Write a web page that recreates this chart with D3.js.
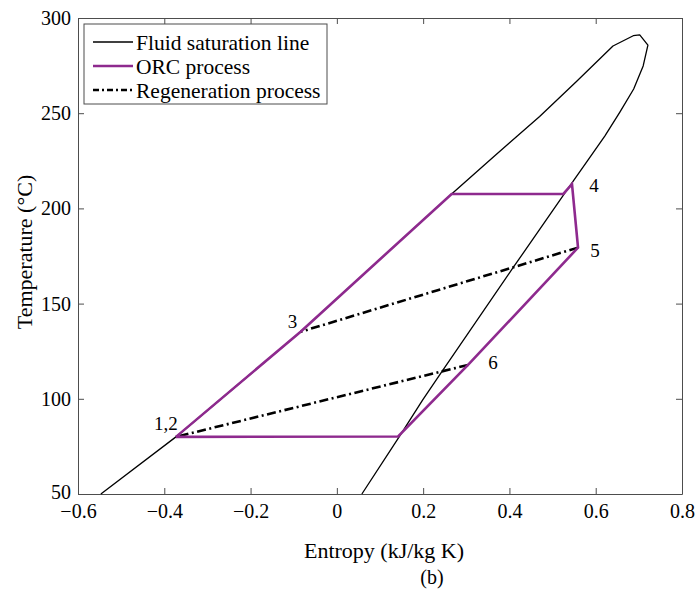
<!DOCTYPE html>
<html>
<head>
<meta charset="utf-8">
<script src="https://cdn.jsdelivr.net/npm/d3@7"></script>
<style>
  body { margin: 0; background: #fff; }
  text { font-family: "Liberation Serif", "Times New Roman", serif; fill: #000; }
</style>
</head>
<body>
<div class="chart-area"></div>
<script>
// saturation dome (entropy kJ/kg K, temperature C), liquid side then vapour side
let satS = [-0.547, -0.373, -0.084, 0.266, 0.368, 0.470, 0.556, 0.640, 0.687, 0.702, 0.721,
            0.710, 0.688, 0.656, 0.621, 0.582, 0.538, 0.408, 0.243, 0.199, 0.144, 0.058];
let satT = [50, 80, 135.2, 207.6, 228.0, 248.3, 266.8, 285.3, 290.7, 291.1, 285.8,
            274.8, 262.7, 250.6, 238.0, 225.4, 211.2, 168.7, 114.1, 99.4, 79.9, 50];

// ORC cycle: 1,2 -> 3 -> sat liquid -> sat vapour -> 4 -> 5 -> 6 -> sat vapour -> 1,2
let orcS = [-0.373, -0.084, 0.266, 0.525, 0.545, 0.559, 0.304, 0.142, -0.373];
let orcT = [80, 135.2, 207.6, 207.6, 212.7, 179.4, 117.8, 80.2, 80];

// regeneration: 5 -> 3 and 6 -> 1,2
let regenA_S = [0.559, -0.084], regenA_T = [179.4, 135.2];
let regenB_S = [0.304, -0.373], regenB_T = [117.8, 80];

let pointNames = ["1,2", "3", "4", "5", "6"];
let pointS = [-0.373, -0.084, 0.545, 0.559, 0.304];
let pointT = [80, 135.2, 212.7, 179.4, 117.8];

let xTicks = [-0.6, -0.4, -0.2, 0, 0.2, 0.4, 0.6, 0.8];
let yTicks = [50, 100, 150, 200, 250, 300];
let legendNames = ["Fluid saturation line", "ORC process", "Regeneration process"];

let outerWidth = 699;
let outerHeight = 594;
let margin = {top: 18, right: 17, bottom: 100, left: 78};
let width = outerWidth - margin.left - margin.right, height = outerHeight - margin.top - margin.bottom;

let purple = "#8e2a8e";
let dashdot = "9,3.5,2,3.5";

let svg = d3.select('.chart-area').append('svg')
    .attr('width', outerWidth)
    .attr('height', outerHeight)
    .append("g")
    .attr("transform", "translate(" + margin.left + "," + margin.top + ")");

let xScale = d3.scaleLinear().domain([-0.6, 0.8]).range([0, width]);
let yScale = d3.scaleLinear().domain([50, 300]).range([height, 0]);

let zip = (s, t) => s.map((v, i) => [v, t[i]]);
let line = d3.line().x(d => xScale(d[0])).y(d => yScale(d[1]));

let fmt = d => d === 0 ? "0" : d3.format(".1f")(d).replace("-", "\u2212");

// axes with inward ticks on all four sides
let axisColor = "#4d4d4d";
let tk = 6;
let axBottom = svg.append("g").attr("transform", `translate(0,${height})`)
    .call(d3.axisBottom(xScale).tickValues(xTicks).tickSizeInner(-tk).tickSizeOuter(0).tickPadding(10).tickFormat(fmt));
let axTop = svg.append("g")
    .call(d3.axisTop(xScale).tickValues(xTicks).tickSizeInner(-tk).tickSizeOuter(0).tickFormat(""));
let axLeft = svg.append("g")
    .call(d3.axisLeft(yScale).tickValues(yTicks).tickSizeInner(-tk).tickSizeOuter(0).tickPadding(7));
let axRight = svg.append("g").attr("transform", `translate(${width},0)`)
    .call(d3.axisRight(yScale).tickValues(yTicks).tickSizeInner(-tk).tickSizeOuter(0).tickFormat(""));

[axBottom, axTop, axLeft, axRight].forEach(a => {
    a.selectAll(".domain").attr("stroke", axisColor);
    a.selectAll(".tick line").attr("stroke", axisColor);
    a.selectAll("text").attr("font-family", "Liberation Serif").attr("font-size", 20).attr("fill", "#000");
});
// lowest y label sits a little higher so it clears the x labels
axLeft.selectAll(".tick text").filter(d => d === 50).attr("dy", "0.2em");

// saturation line
svg.append("path")
    .datum(zip(satS, satT))
    .attr("fill", "none")
    .attr("stroke", "black")
    .attr("stroke-width", 1.3)
    .attr("stroke-linejoin", "round")
    .attr("d", line);

// regeneration
[[regenA_S, regenA_T], [regenB_S, regenB_T]].forEach(r => {
    svg.append("path")
        .datum(zip(r[0], r[1]))
        .attr("fill", "none")
        .attr("stroke", "black")
        .attr("stroke-width", 2.6)
        .attr("stroke-dasharray", dashdot)
        .attr("d", line);
});

// ORC
svg.append("path")
    .datum(zip(orcS, orcT))
    .attr("fill", "none")
    .attr("stroke", purple)
    .attr("stroke-width", 2.6)
    .attr("stroke-linejoin", "miter")
    .attr("d", line);

// state point labels
let labelOffset = {"1,2": [-10, -14], "3": [-8, -10], "4": [22, 1], "5": [17, 3], "6": [25, -3]};
svg.selectAll("text.pt")
    .data(pointNames)
    .enter()
    .append("text")
    .attr("class", "pt")
    .attr("x", (d, i) => xScale(pointS[i]) + labelOffset[d][0])
    .attr("y", (d, i) => yScale(pointT[i]) + labelOffset[d][1])
    .attr("text-anchor", "middle")
    .attr("dy", "0.35em")
    .attr("font-size", 19)
    .text(d => d);

// axis titles
svg.append("text")
    .attr("x", width / 2 + 4)
    .attr("y", height + 64)
    .attr("text-anchor", "middle")
    .attr("font-size", 22)
    .text("Entropy (kJ/kg K)");

svg.append("text")
    .attr("transform", `translate(${-margin.left + 32},${height / 2 - 4}) rotate(-90)`)
    .attr("text-anchor", "middle")
    .attr("font-size", 22)
    .text("Temperature (\u00B0C)");

svg.append("text")
    .attr("x", 432 - margin.left)
    .attr("y", 584 - margin.top)
    .attr("text-anchor", "middle")
    .attr("font-family", "DejaVu Serif")
    .attr("font-size", 20)
    .text("(b)");

// legend
let lg = svg.append("g").attr("transform", "translate(6,6)");
lg.append("rect")
    .attr("width", 243)
    .attr("height", 80)
    .attr("fill", "white")
    .attr("stroke", axisColor)
    .attr("stroke-width", 1);
let styles = [
    {stroke: "black", w: 1.3, dash: null},
    {stroke: purple, w: 2.6, dash: null},
    {stroke: "black", w: 2.6, dash: "6,3,2,3"}
];
legendNames.forEach((name, i) => {
    let yy = 18 + i * 24;
    lg.append("line")
        .attr("x1", 9).attr("x2", 49)
        .attr("y1", yy).attr("y2", yy)
        .attr("stroke", styles[i].stroke)
        .attr("stroke-width", styles[i].w)
        .attr("stroke-dasharray", styles[i].dash);
    lg.append("text")
        .attr("x", 52)
        .attr("y", yy)
        .attr("dy", "0.35em")
        .attr("font-size", 21.5)
        .text(name);
});
</script>
</body>
</html>
